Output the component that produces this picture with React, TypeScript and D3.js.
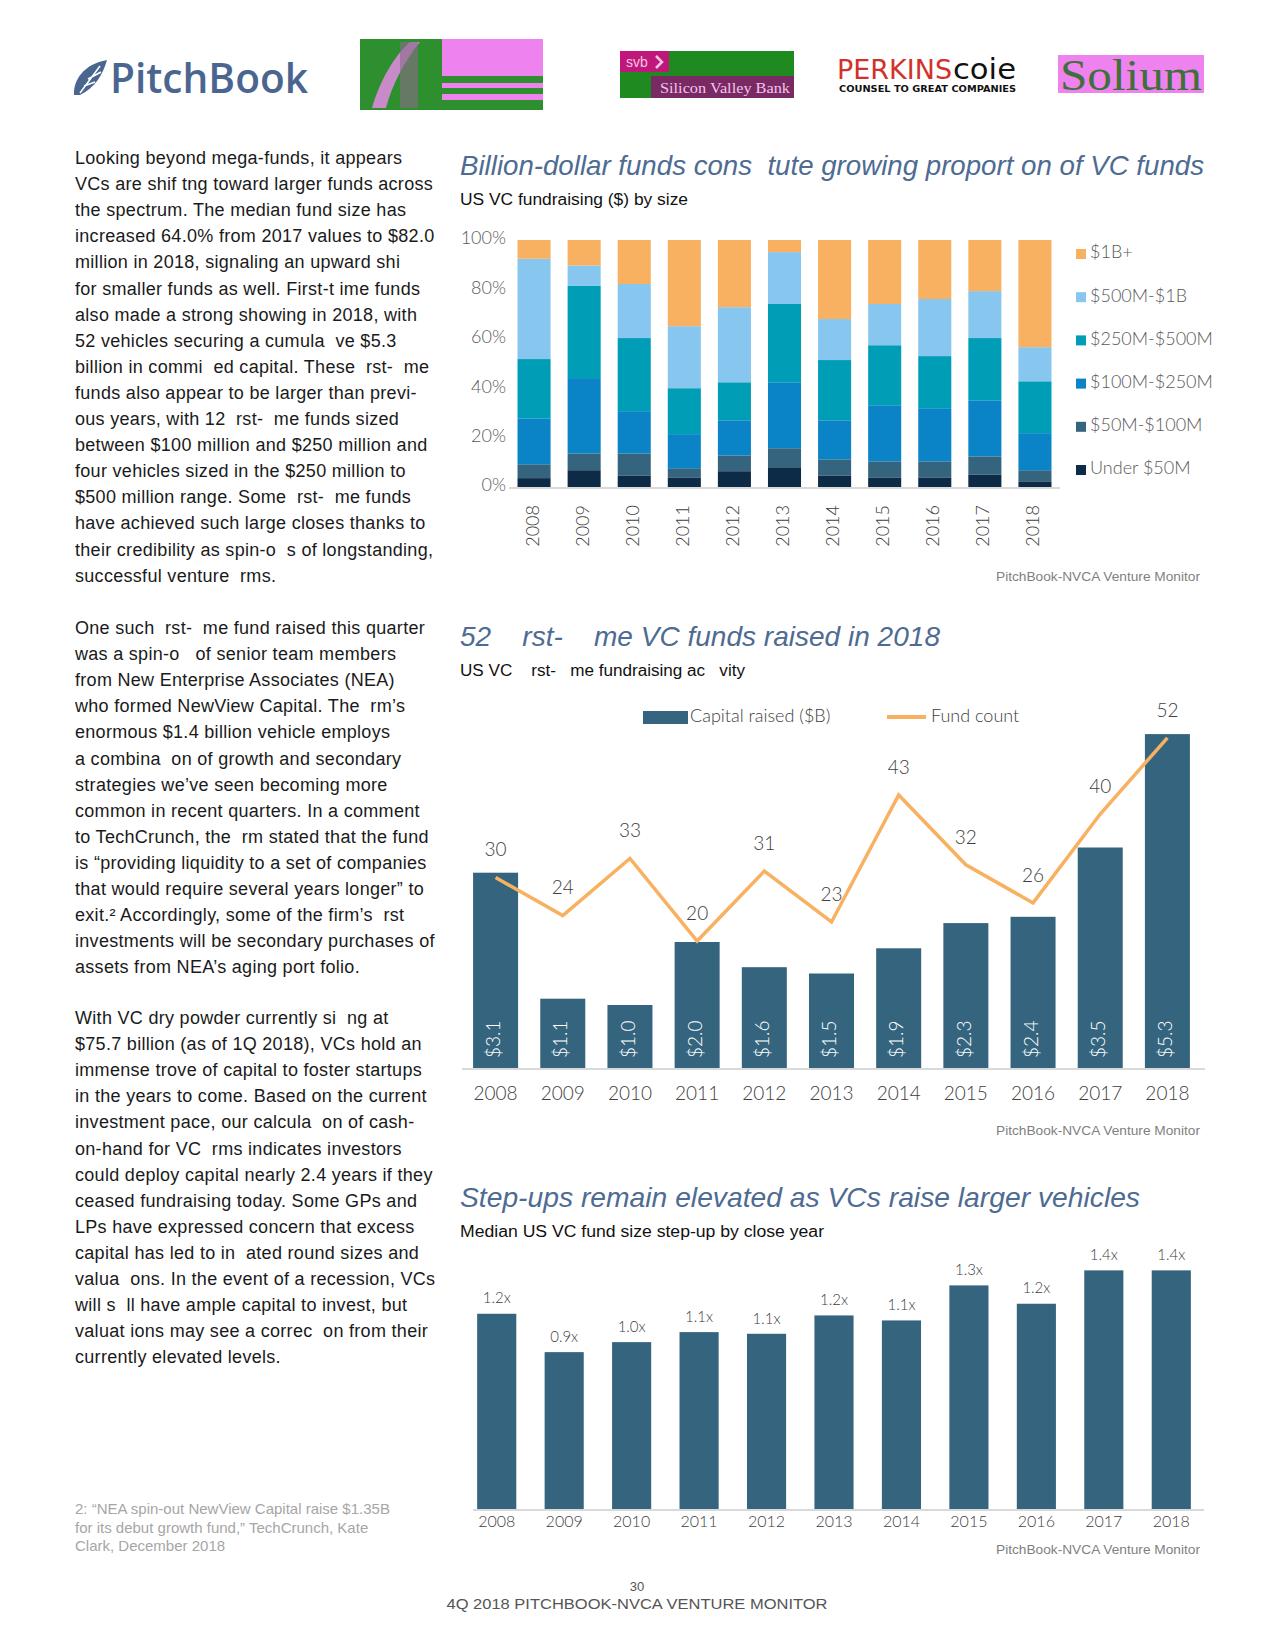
import React, { useEffect, useRef } from 'react';
import * as d3 from 'd3';

// ---- data ----
const years = ['2008', '2009', '2010', '2011', '2012', '2013', '2014', '2015', '2016', '2017', '2018'];

// chart 1: share of US VC fundraising ($) by fund size, percent of each year
const sizeBuckets = ['Under $50M', '$50M-$100M', '$100M-$250M', '$250M-$500M', '$500M-$1B', '$1B+'];
const under50 = [3.6, 6.8, 4.7, 3.9, 6.4, 8.0, 4.7, 3.9, 3.9, 5.1, 2.3];
const from50to100 = [5.6, 6.8, 8.9, 3.7, 6.4, 7.7, 6.5, 6.5, 6.5, 7.3, 4.5];
const from100to250 = [18.6, 30.5, 17.1, 13.8, 14.2, 26.7, 15.8, 22.7, 21.5, 22.7, 15.0];
const from250to500 = [24.0, 37.3, 29.6, 18.6, 15.4, 31.7, 24.4, 24.3, 21.1, 25.2, 21.0];
const from500to1b = [40.6, 8.3, 21.9, 25.1, 30.4, 21.0, 16.6, 16.7, 23.1, 19.0, 13.8];
const over1b = [7.6, 10.3, 17.8, 34.9, 27.2, 4.9, 32.0, 25.9, 23.9, 20.7, 43.4];
const pctTicks = [0, 20, 40, 60, 80, 100];

// chart 2: first-time funds
const capitalRaised = [3.1, 1.1, 1.0, 2.0, 1.6, 1.5, 1.9, 2.3, 2.4, 3.5, 5.3];
const fundCount = [30, 24, 33, 20, 31, 23, 43, 32, 26, 40, 52];

// chart 3: median step-up
const stepUp = [1.17, 0.94, 1.0, 1.06, 1.05, 1.16, 1.13, 1.34, 1.23, 1.43, 1.43];
const stepUpLabels = ['1.2x', '0.9x', '1.0x', '1.1x', '1.1x', '1.2x', '1.1x', '1.3x', '1.2x', '1.4x', '1.4x'];

// body copy, one entry per printed line
const para1 = [
  'Looking beyond mega-funds, it appears',
  'VCs are shif tng toward larger funds across',
  'the spectrum. The median fund size has',
  'increased 64.0% from 2017 values to $82.0',
  'million in 2018, signaling an upward shi',
  'for smaller funds as well. First-t ime funds',
  'also made a strong showing in 2018, with',
  '52 vehicles securing a cumula  ve $5.3',
  'billion in commi  ed capital. These  rst-  me',
  'funds also appear to be larger than previ-',
  'ous years, with 12  rst-  me funds sized',
  'between $100 million and $250 million and',
  'four vehicles sized in the $250 million to',
  '$500 million range. Some  rst-  me funds',
  'have achieved such large closes thanks to',
  'their credibility as spin-o  s of longstanding,',
  'successful venture  rms.',
];
const para2 = [
  'One such  rst-  me fund raised this quarter',
  'was a spin-o   of senior team members',
  'from New Enterprise Associates (NEA)',
  'who formed NewView Capital. The  rm\u2019s',
  'enormous $1.4 billion vehicle employs',
  'a combina  on of growth and secondary',
  'strategies we\u2019ve seen becoming more',
  'common in recent quarters. In a comment',
  'to TechCrunch, the  rm stated that the fund',
  'is \u201cproviding liquidity to a set of companies',
  'that would require several years longer\u201d to',
  'exit.\u00b2 Accordingly, some of the firm\u2019s  rst',
  'investments will be secondary purchases of',
  'assets from NEA\u2019s aging port folio.',
];
const para3 = [
  'With VC dry powder currently si  ng at',
  '$75.7 billion (as of 1Q 2018), VCs hold an',
  'immense trove of capital to foster startups',
  'in the years to come. Based on the current',
  'investment pace, our calcula  on of cash-',
  'on-hand for VC  rms indicates investors',
  'could deploy capital nearly 2.4 years if they',
  'ceased fundraising today. Some GPs and',
  'LPs have expressed concern that excess',
  'capital has led to in  ated round sizes and',
  'valua  ons. In the event of a recession, VCs',
  'will s  ll have ample capital to invest, but',
  'valuat ions may see a correc  on from their',
  'currently elevated levels.',
];
const footnote = [
  '2: \u201cNEA spin-out NewView Capital raise $1.35B',
  'for its debut growth fund,\u201d TechCrunch, Kate',
  'Clark, December 2018',
];

// keep runs of spaces (the pdf dropped its ligatures there)
const keepGaps = (s: string) => s.replace(/ {2,}/g, m => '\u00a0'.repeat(m.length));

const App = () => {
  const svgRef = useRef<SVGSVGElement>(null);

  useEffect(() => {
    const svg = d3.select(svgRef.current);
    svg.selectAll('*').remove();

    const chartFont = 'Lato, "Open Sans", sans-serif';
    const bodyFont = '"Liberation Sans", Arial, sans-serif';
    const titleBlue = '#4e6b92';
    const barBlue = '#35647e';
    const orange = '#f8b160';

    // ---------- header logos ----------
    const head = svg.append('g');
    // pitchbook feather
    head.append('path')
      .attr('d', 'M74,95 C73,80 84,64 107,60 C103,74 95,88 80,95 Z')
      .attr('fill', '#4a6690');
    head.append('path')
      .attr('d', 'M80,93 L100,66 M84,86 L95,82 M88,79 L101,72')
      .attr('stroke', '#fff').attr('stroke-width', 1.5).attr('fill', 'none');
    head.append('text')
      .attr('x', 110).attr('y', 93)
      .attr('font-family', '"Open Sans", sans-serif').attr('font-weight', 600)
      .attr('font-size', 42).attr('fill', '#4a6690')
      .attr('textLength', 198).attr('lengthAdjust', 'spacingAndGlyphs')
      .text('PitchBook');

    // nvca logo (comes out as a green / pink scan)
    head.append('rect').attr('x', 360).attr('y', 39).attr('width', 183).attr('height', 71).attr('fill', '#ee82ee');
    head.append('rect').attr('x', 360).attr('y', 39).attr('width', 82).attr('height', 71).attr('fill', '#2e8f2e');
    head.append('rect').attr('x', 442).attr('y', 76).attr('width', 101).attr('height', 7).attr('fill', '#2e8f2e');
    head.append('rect').attr('x', 442).attr('y', 88).attr('width', 101).attr('height', 6).attr('fill', '#2e8f2e');
    head.append('rect').attr('x', 442).attr('y', 100).attr('width', 101).attr('height', 10).attr('fill', '#2e8f2e');
    head.append('path')
      .attr('d', 'M372,108 C380,80 395,55 410,42 L420,42 C405,60 392,85 386,108 Z')
      .attr('fill', '#c98ac9');
    head.append('rect').attr('x', 400).attr('y', 42).attr('width', 18).attr('height', 66).attr('fill', '#8a6a8a').attr('opacity', 0.6);

    // svb logo
    head.append('rect').attr('x', 620).attr('y', 51).attr('width', 174).attr('height', 47).attr('fill', '#1f8a1f');
    head.append('rect').attr('x', 620).attr('y', 51).attr('width', 49).attr('height', 21).attr('fill', '#c0177a');
    head.append('text').attr('x', 626).attr('y', 67).attr('font-family', bodyFont).attr('font-size', 14)
      .attr('fill', '#f4c8e4').text('svb');
    head.append('path').attr('d', 'M656,56 L662,62 L656,68').attr('stroke', '#f4c8e4').attr('stroke-width', 2.5).attr('fill', 'none');
    head.append('rect').attr('x', 651).attr('y', 76).attr('width', 143).attr('height', 22).attr('fill', '#7a2a62');
    head.append('text').attr('x', 660).attr('y', 93).attr('font-family', '"Liberation Serif", serif').attr('font-size', 15)
      .attr('fill', '#f2c4ee').attr('textLength', 130).attr('lengthAdjust', 'spacingAndGlyphs').text('Silicon Valley Bank');

    // perkins coie
    head.append('text').attr('x', 837).attr('y', 79).attr('font-family', '"DejaVu Sans", sans-serif')
      .attr('font-size', 26).attr('fill', '#d2322b').attr('textLength', 115).attr('lengthAdjust', 'spacingAndGlyphs')
      .text('PERKINS');
    head.append('text').attr('x', 953).attr('y', 79).attr('font-family', '"DejaVu Sans", sans-serif')
      .attr('font-size', 28).attr('fill', '#111').attr('textLength', 63).attr('lengthAdjust', 'spacingAndGlyphs')
      .text('coie');
    head.append('text').attr('x', 839).attr('y', 92).attr('font-family', '"DejaVu Sans", sans-serif')
      .attr('font-weight', 'bold').attr('font-size', 8.5).attr('fill', '#111')
      .attr('textLength', 177).attr('lengthAdjust', 'spacingAndGlyphs').text('COUNSEL TO GREAT COMPANIES');

    // solium
    head.append('rect').attr('x', 1058).attr('y', 55).attr('width', 146).attr('height', 38).attr('fill', '#ee82ee');
    head.append('text').attr('x', 1060).attr('y', 90).attr('font-family', '"Liberation Serif", serif')
      .attr('font-size', 44).attr('fill', '#3f6f3a').attr('textLength', 142).attr('lengthAdjust', 'spacingAndGlyphs')
      .text('Solium');

    // ---------- left column copy ----------
    const body = svg.append('g')
      .attr('font-family', bodyFont).attr('font-size', 18).attr('fill', '#1a1a1a')
      .attr('letter-spacing', 0.3);
    const drawPara = (lines: string[], y0: number) => {
      body.selectAll(null)
        .data(lines)
        .enter().append('text')
        .attr('x', 75)
        .attr('y', (d, i) => y0 + i * 26.1)
        .text(d => keepGaps(d));
    };
    drawPara(para1, 164);
    drawPara(para2, 634);
    drawPara(para3, 1024);

    svg.append('g')
      .attr('font-family', bodyFont).attr('font-size', 15).attr('fill', '#a6a6a6')
      .selectAll('text').data(footnote).enter().append('text')
      .attr('x', 75).attr('y', (d, i) => 1514 + i * 18.5)
      .text(d => d);

    // ---------- shared bits ----------
    const title = (y: number, str: string, w: number) => {
      svg.append('text')
        .attr('x', 460).attr('y', y)
        .attr('font-family', bodyFont).attr('font-style', 'italic')
        .attr('font-size', 28).attr('fill', titleBlue)
        .attr('textLength', w).attr('lengthAdjust', 'spacingAndGlyphs')
        .text(keepGaps(str));
    };
    const subtitle = (y: number, str: string, w: number) => {
      svg.append('text')
        .attr('x', 460).attr('y', y)
        .attr('font-family', bodyFont).attr('font-size', 16).attr('fill', '#111')
        .attr('textLength', w).attr('lengthAdjust', 'spacingAndGlyphs')
        .text(keepGaps(str));
    };
    const source = (y: number) => {
      svg.append('text')
        .attr('x', 1200).attr('y', y)
        .attr('text-anchor', 'end')
        .attr('font-family', bodyFont).attr('font-size', 12.5).attr('fill', '#7f7f7f')
        .attr('textLength', 204).attr('lengthAdjust', 'spacingAndGlyphs')
        .text('PitchBook-NVCA Venture Monitor');
    };

    // ---------- chart 1: fundraising by size ----------
    title(175, 'Billion-dollar funds cons  tute growing proport on of VC funds', 744);
    subtitle(205, 'US VC fundraising ($) by size', 228);

    const c1 = svg.append('g');
    const x1 = d3.scaleBand<string>().domain(years).range([509, 1060]).paddingInner(0.34).paddingOuter(0.17);
    const y1 = d3.scaleLinear().domain([0, 100]).range([487, 240]);
    const sizeColors = d3.scaleOrdinal<string, string>()
      .domain(sizeBuckets)
      .range(['#0d2b47', '#35647e', '#0a84c6', '#009db6', '#86c6ef', '#f8b160']);

    const sizeSeries = [under50, from50to100, from100to250, from250to500, from500to1b, over1b];
    const sizeRows = years.map((yr, i) => {
      const row: any = { year: yr };
      sizeBuckets.forEach((b, j) => { row[b] = sizeSeries[j][i]; });
      return row;
    });
    const stacked = d3.stack<any>().keys(sizeBuckets)(sizeRows);

    c1.selectAll('.layer')
      .data(stacked)
      .enter().append('g')
      .attr('fill', d => sizeColors(d.key))
      .selectAll('rect')
      .data(d => d)
      .enter().append('rect')
      .attr('x', d => x1(d.data.year)!)
      .attr('width', x1.bandwidth())
      .attr('y', d => y1(d[1]))
      .attr('height', d => y1(d[0]) - y1(d[1]));

    c1.append('line')
      .attr('x1', 509).attr('x2', 1060).attr('y1', y1(0) + 1).attr('y2', y1(0) + 1)
      .attr('stroke', '#d9d9d9').attr('stroke-width', 2);

    c1.selectAll('.ytick')
      .data(pctTicks)
      .enter().append('text')
      .attr('x', 506).attr('y', d => y1(d))
      .attr('text-anchor', 'end').attr('dominant-baseline', 'middle')
      .attr('font-family', chartFont).attr('font-weight', 300).attr('font-size', 18).attr('fill', '#595959')
      .text(d => d + '%');

    c1.selectAll('.xtick')
      .data(years)
      .enter().append('text')
      .attr('transform', d => `translate(${x1(d)! + x1.bandwidth() / 2},505) rotate(-90)`)
      .attr('text-anchor', 'end').attr('dominant-baseline', 'middle')
      .attr('font-family', chartFont).attr('font-weight', 300).attr('font-size', 18).attr('fill', '#404040')
      .text(d => d);

    // legend, top entry is $1B+
    const legendKeys = sizeBuckets.slice().reverse();
    const leg1 = c1.selectAll('.leg')
      .data(legendKeys)
      .enter().append('g')
      .attr('transform', (d, i) => `translate(1076,${254 + i * 43.2})`);
    leg1.append('rect').attr('x', 0).attr('y', -5).attr('width', 10).attr('height', 10).attr('fill', d => sizeColors(d));
    leg1.append('text')
      .attr('x', 14).attr('y', 0).attr('dominant-baseline', 'middle')
      .attr('font-family', chartFont).attr('font-weight', 300).attr('font-size', 18).attr('fill', '#595959')
      .text(d => d);

    source(581);

    // ---------- chart 2: first-time funds ----------
    title(646, '52    rst-    me VC funds raised in 2018', 480);
    subtitle(676, 'US VC    rst-   me fundraising ac   vity', 285);

    const c2 = svg.append('g');
    const x2 = d3.scaleBand<string>().domain(years).range([462, 1201]).paddingInner(0.33).paddingOuter(0.165);
    const yCap = d3.scaleLinear().domain([0, 6]).range([1068, 690]);
    const yCount = d3.scaleLinear().domain([0, 60]).range([1068, 687]);
    const cx2 = (yr: string) => x2(yr)! + x2.bandwidth() / 2;

    c2.selectAll('.bar')
      .data(capitalRaised)
      .enter().append('rect')
      .attr('x', (d, i) => x2(years[i])!)
      .attr('width', x2.bandwidth())
      .attr('y', d => yCap(d))
      .attr('height', d => yCap(0) - yCap(d))
      .attr('fill', barBlue);

    c2.selectAll('.barlabel')
      .data(capitalRaised)
      .enter().append('text')
      .attr('transform', (d, i) => `translate(${cx2(years[i])},1058) rotate(-90)`)
      .attr('dominant-baseline', 'middle')
      .attr('font-family', chartFont).attr('font-weight', 300).attr('font-size', 19).attr('fill', '#fff')
      .text(d => '$' + d.toFixed(1));

    c2.append('line')
      .attr('x1', 462).attr('x2', 1205).attr('y1', 1069).attr('y2', 1069)
      .attr('stroke', '#d9d9d9').attr('stroke-width', 2);

    const countLine = d3.line<number>()
      .x((d, i) => cx2(years[i]))
      .y(d => yCount(d));
    c2.append('path')
      .attr('d', countLine(fundCount))
      .attr('fill', 'none').attr('stroke', orange).attr('stroke-width', 3.5);

    c2.selectAll('.countlabel')
      .data(fundCount)
      .enter().append('text')
      .attr('x', (d, i) => cx2(years[i]))
      .attr('y', d => yCount(d) - 26)
      .attr('text-anchor', 'middle').attr('dominant-baseline', 'middle')
      .attr('font-family', chartFont).attr('font-weight', 300).attr('font-size', 19).attr('fill', '#404040')
      .text(d => d);

    c2.selectAll('.xtick')
      .data(years)
      .enter().append('text')
      .attr('x', d => cx2(d)).attr('y', 1095)
      .attr('text-anchor', 'middle').attr('dominant-baseline', 'middle')
      .attr('font-family', chartFont).attr('font-weight', 300).attr('font-size', 19).attr('fill', '#404040')
      .text(d => d);

    // legend
    c2.append('rect').attr('x', 643).attr('y', 711).attr('width', 45).attr('height', 13).attr('fill', barBlue);
    c2.append('text').attr('x', 690).attr('y', 718).attr('dominant-baseline', 'middle')
      .attr('font-family', chartFont).attr('font-weight', 300).attr('font-size', 18).attr('fill', '#404040')
      .text('Capital raised ($B)');
    c2.append('line').attr('x1', 887).attr('x2', 926).attr('y1', 717).attr('y2', 717)
      .attr('stroke', orange).attr('stroke-width', 4);
    c2.append('text').attr('x', 931).attr('y', 718).attr('dominant-baseline', 'middle')
      .attr('font-family', chartFont).attr('font-weight', 300).attr('font-size', 18).attr('fill', '#404040')
      .text('Fund count');

    source(1135);

    // ---------- chart 3: step-ups ----------
    title(1207, 'Step-ups remain elevated as VCs raise larger vehicles', 680);
    subtitle(1237, 'Median US VC fund size step-up by close year', 364);

    const c3 = svg.append('g');
    const x3 = d3.scaleBand<string>().domain(years).range([463, 1205]).paddingInner(0.42).paddingOuter(0.21);
    const y3 = d3.scaleLinear().domain([0, 1.6]).range([1509, 1242]);
    const cx3 = (yr: string) => x3(yr)! + x3.bandwidth() / 2;

    c3.selectAll('.bar')
      .data(stepUp)
      .enter().append('rect')
      .attr('x', (d, i) => x3(years[i])!)
      .attr('width', x3.bandwidth())
      .attr('y', d => y3(d))
      .attr('height', d => y3(0) - y3(d))
      .attr('fill', barBlue);

    c3.selectAll('.barlabel')
      .data(stepUp)
      .enter().append('text')
      .attr('x', (d, i) => cx3(years[i]))
      .attr('y', d => y3(d) - 14)
      .attr('text-anchor', 'middle').attr('dominant-baseline', 'middle')
      .attr('font-family', chartFont).attr('font-weight', 300).attr('font-size', 15).attr('fill', '#404040')
      .text((d, i) => stepUpLabels[i]);

    c3.append('line')
      .attr('x1', 473).attr('x2', 1204).attr('y1', 1510).attr('y2', 1510)
      .attr('stroke', '#d9d9d9').attr('stroke-width', 2);

    c3.selectAll('.xtick')
      .data(years)
      .enter().append('text')
      .attr('x', d => cx3(d)).attr('y', 1523)
      .attr('text-anchor', 'middle').attr('dominant-baseline', 'middle')
      .attr('font-family', chartFont).attr('font-weight', 300).attr('font-size', 16).attr('fill', '#404040')
      .text(d => d);

    source(1554);

    // ---------- footer ----------
    svg.append('text').attr('x', 637).attr('y', 1591).attr('text-anchor', 'middle')
      .attr('font-family', bodyFont).attr('font-size', 13).attr('fill', '#555').text('30');
    svg.append('text').attr('x', 637).attr('y', 1609).attr('text-anchor', 'middle')
      .attr('font-family', bodyFont).attr('font-size', 14).attr('fill', '#555')
      .attr('textLength', 381).attr('lengthAdjust', 'spacingAndGlyphs')
      .text('4Q 2018 PITCHBOOK-NVCA VENTURE MONITOR');
  }, []);

  return (
    <svg
      ref={svgRef}
      width={1275}
      height={1650}
      style={{ position: 'absolute', left: 0, top: 0, background: '#fff' }}
    />
  );
};

export default App;
